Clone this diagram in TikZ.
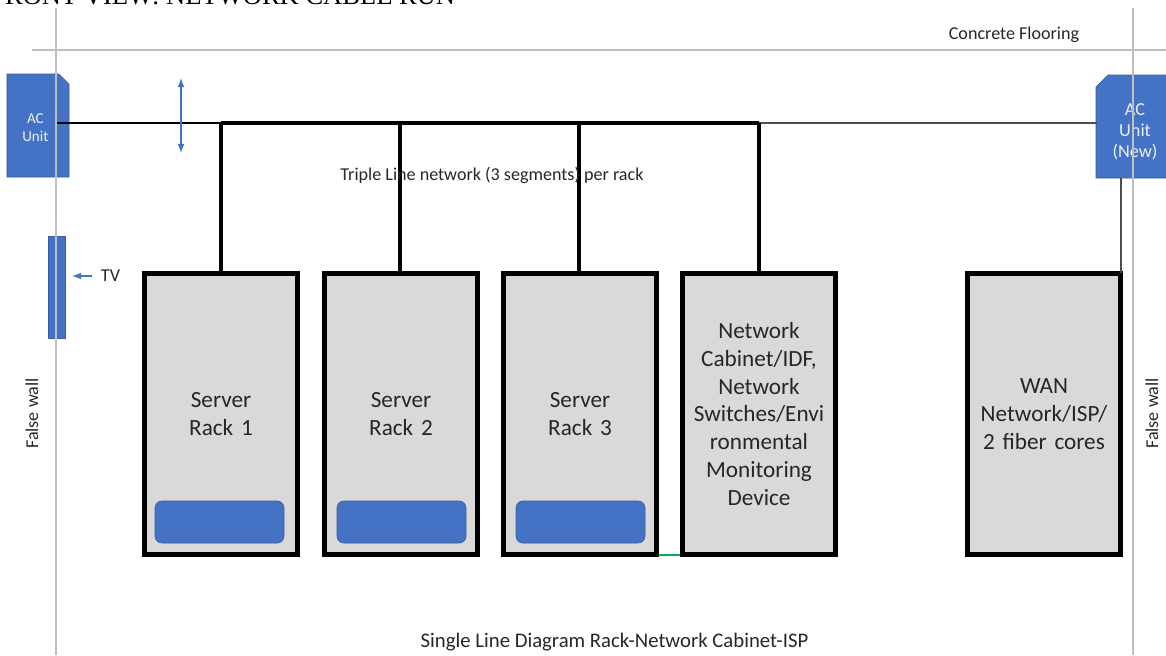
\documentclass[tikz,border=0pt]{standalone}
\usepackage{fontspec}
\setmainfont{Carlito}
\newfontfamily\headfont{Liberation Serif}
\usepackage{tikz}
\usetikzlibrary{shapes,shapes.misc,arrows,positioning,calc}
\definecolor{acblue}{HTML}{4472C4}
\definecolor{acedge}{HTML}{3A5E9F}
\definecolor{wallgray}{HTML}{BFBFBF}
\definecolor{boxgray}{HTML}{D9D9D9}
\definecolor{inkgray}{HTML}{262626}
\definecolor{linkgreen}{HTML}{00B050}

\begin{document}
\begin{tikzpicture}
        % Define styles
        \tikzset{
            rack/.style={draw=black, rectangle, line width=2.6pt, fill=boxgray, minimum width=3.06cm, minimum height=5.62cm, text width=2.95cm, align=center, inner sep=0pt, text=inkgray, font=\fontsize{13.2}{15.9}\selectfont},
            tray/.style={draw=acedge, rectangle, rounded corners=4pt, fill=acblue, minimum width=2.58cm, minimum height=0.84cm},
            acunit/.style={draw=acedge, fill=acblue, chamfered rectangle, chamfered rectangle xsep=0.1cm, chamfered rectangle ysep=0.1cm, align=center, inner sep=0pt, text=white!90!acblue, font=\fontsize{8.6}{10.3}\selectfont},
            label/.style={text=inkgray, font=\fontsize{10.3}{12}\selectfont, inner sep=0pt},
            wall/.style={draw=wallgray, line width=0.8pt},
            trunk/.style={line width=1.9pt, black},
            feed/.style={line width=0.8pt, black!70},
            pointer/.style={<->, >=latex, acblue, line width=0.8pt}
        }
        \useasboundingbox (0,0) rectangle (23.32,-13.1);

        % Place nodes
        \node[coordinate] (walltl) at (1.12,-0.16) {};
        \node[coordinate] (wallbl) at (1.12,-13.1) {};
        \node[coordinate] (walltr) at (22.66,-0.16) {};
        \node[coordinate] (wallbr) at (22.66,-13.1) {};
        \node[coordinate] (floorl) at (0.64,-1) {};
        \node[coordinate] (floorr) at (23.32,-1) {};

        \node[acunit, chamfered rectangle corners=north east, minimum width=1.24cm, minimum height=2.06cm] (acleft) at (0.76,-2.51) {\rule{0pt}{0.95em}AC\kern3pt\\Unit\kern3pt};
        \node[acunit, chamfered rectangle corners=north west, chamfered rectangle xsep=0.12cm, chamfered rectangle ysep=0.12cm, minimum width=1.56cm, minimum height=2.06cm, font=\fontsize{10.4}{12}\selectfont] (acright) at (22.7,-2.53) {\rule{0pt}{1.25em}AC\\Unit\\(New)};
        \node[acunit, chamfered rectangle corners=north east, chamfered rectangle xsep=0.03cm, chamfered rectangle ysep=0.03cm, minimum width=0.34cm, minimum height=2.04cm] (tv) at (1.13,-5.74) {};

        \node[rack] (rackone) at (4.42,-8.28) {Server\\Rack 1\\[2.2cm]};
        \node[rack] (racktwo) at (8.02,-8.28) {Server\\Rack 2\\[2.2cm]};
        \node[rack] (rackthree) at (11.6,-8.28) {Server\\Rack 3\\[2.2cm]};
        \node[rack] (cabinet) at (15.18,-8.28) {Network\\Cabinet/IDF,\\Network\\Switches/Envi\\ronmental\\Monitoring\\Device};
        \node[rack] (wan) at (20.88,-8.28) {WAN\\Network/ISP/\\2 fiber cores\\[0.5cm]};

        \node[tray] (trayone) at (4.39,-10.44) {};
        \node[tray] (traytwo) at (8.03,-10.44) {};
        \node[tray] (traythree) at (11.61,-10.44) {};

        % Trunk points
        \node[coordinate] (start) at (1.14,-2.46) {};
        \node[coordinate] (tapone) at (4.42,-2.46) {};
        \node[coordinate] (taptwo) at (8.0,-2.46) {};
        \node[coordinate] (tapthree) at (11.58,-2.46) {};
        \node[coordinate] (tapfour) at (15.18,-2.46) {};
        \node[coordinate] (acin) at (21.94,-2.46) {};
        \node[coordinate] (acout) at (22.42,-3.56) {};
        \node[coordinate] (wanin) at (22.42,-5.46) {};

        % Draw cable run
        \draw[line width=0.8pt, black] (start) -- (tapone);
        \draw[feed] (tapfour) -- (acin);
        \draw[feed] (acout) -- (wanin);
        \draw[trunk] (tapone) -- (tapfour);
        \draw[trunk] (tapone) -- (rackone.north);
        \draw[trunk] (taptwo) -- (taptwo |- racktwo.north);
        \draw[trunk] (tapthree) -- (tapthree |- rackthree.north);
        \draw[trunk] (tapfour) -- (cabinet.north);
        \draw[linkgreen, line width=1.2pt] ($(rackthree.south east)+(0,0.04)$) -- ($(cabinet.south west)+(0,0.04)$);

        % Draw the walls and the floor
        \draw[wall] (walltl) -- (wallbl);
        \draw[wall] (walltr) -- (wallbr);
        \draw[wall] (floorl) -- (floorr);

        % Arrows
        \node[coordinate] (spanup) at (3.62,-1.56) {};
        \node[coordinate] (spandown) at (3.62,-3.06) {};
        \draw[pointer] (spanup) -- (spandown);
        \node[label] (tvlabel) at (2.21,-5.52) {TV};
        \node[coordinate] (tvtip) at (1.44,-5.52) {};
        \node[coordinate] (tvtail) at (1.84,-5.52) {};
        \draw[pointer, <-] (tvtip) -- (tvtail);

        % Labels
        \node[label] (flooring) at (20.28,-0.69) {Concrete Flooring};
        \node[label] (triple) at (9.84,-3.5) {Triple Line network (3 segments) per rack};
        \node[label, font=\fontsize{11.8}{12}\selectfont] (caption) at (12.29,-12.84) {Single Line Diagram Rack-Network Cabinet-ISP};
        \node[label, rotate=90] (wallleft) at (0.64,-8.27) {False wall};
        \node[label, rotate=90] (wallright) at (23.04,-8.27) {False wall};
        \node[anchor=base west, inner sep=0pt, font=\headfont\fontsize{15.1}{16}\selectfont] (heading) at (-0.2,-0.08) {FRONT VIEW: NETWORK CABLE RUN};
    \end{tikzpicture}
\end{document}
